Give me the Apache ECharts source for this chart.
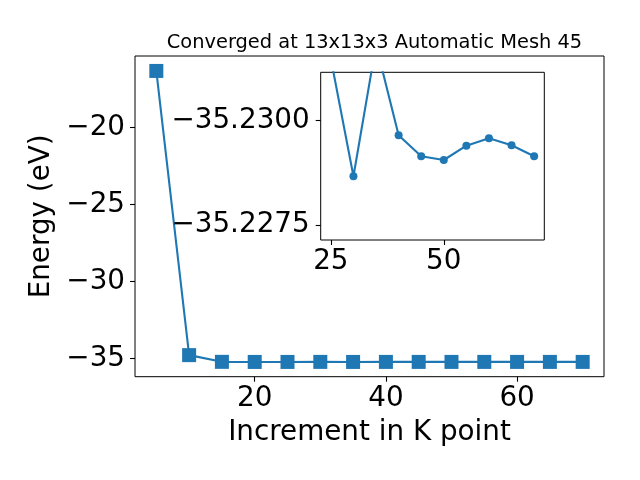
<!DOCTYPE html>
<html>
<head>
<meta charset="utf-8">
<script src="https://cdn.jsdelivr.net/npm/echarts@6/dist/echarts.min.js"></script>
<style>html,body{margin:0;padding:0;background:#fff}#c{width:640px;height:480px}</style>
</head>
<body>
<div id="c"></div>
<script>
const kPoints = [5, 10, 15, 20, 25, 30, 35, 40, 45, 50, 55, 60, 65, 70];
const energies = [-16.34, -34.79, -35.225, -35.232, -35.231468, -35.228663, -35.2318, -35.229642, -35.229140, -35.229052, -35.229394, -35.229570, -35.229403, -35.229140];
const insetStartK = 25;
const mainXTicks = [20, 40, 60];
const mainYTicks = [-35, -30, -25, -20];
const insetXTicks = [25, 50];
const insetYTicks = [-35.2300, -35.2275];
const titleText = 'Converged at 13x13x3 Automatic Mesh 45';
const xName = 'Increment in K point';
const yName = 'Energy (eV)';

const mainData = kPoints.map((k, i) => [k, energies[i]]);
const insetData = mainData.filter(d => d[0] >= insetStartK);

const FONT = 'DejaVu Sans';
const BLUE = '#1f77b4';
const neg = s => s.replace('-', '\u2212');

const chart = echarts.init(document.getElementById('c'), null, {renderer: 'canvas'});
chart.setOption({
  animation: false,
  backgroundColor: '#fff',
  title: {
    text: titleText, left: 369.5, top: 28, textAlign: 'center',
    textStyle: {fontFamily: FONT, fontSize: 19.4, fontWeight: 'normal', color: '#000'}
  },
  grid: [
    {left: 135, top: 56, width: 469, height: 320.7, show: true, borderColor: '#000', borderWidth: 1, backgroundColor: '#fff', z: 0},
    {left: 320.7, top: 72.3, width: 223.6, height: 167.7, show: true, borderColor: '#000', borderWidth: 1, backgroundColor: '#fff', z: 10}
  ],
  xAxis: [
    {
      gridIndex: 0, type: 'value', min: 1.75, max: 73.25,
      name: xName, nameLocation: 'middle', nameGap: 42,
      nameTextStyle: {fontFamily: FONT, fontSize: 27.8, color: '#000'},
      axisLine: {show: false},
      axisTick: {show: true, inside: false, length: 5, lineStyle: {color: '#000', width: 1.1}, customValues: mainXTicks},
      axisLabel: {fontFamily: FONT, fontSize: 27.8, color: '#000', margin: 8, customValues: mainXTicks},
      splitLine: {show: false}
    },
    {
      gridIndex: 1, type: 'value', min: 22.75, max: 72.25, z: 12,
      axisLine: {show: false},
      axisTick: {show: true, inside: false, length: 5, lineStyle: {color: '#000', width: 1.1}, customValues: insetXTicks},
      axisLabel: {fontFamily: FONT, fontSize: 27.8, color: '#000', margin: 8, customValues: insetXTicks},
      splitLine: {show: false}
    }
  ],
  yAxis: [
    {
      gridIndex: 0, type: 'value', min: -36.19, max: -15.37,
      name: yName, nameLocation: 'middle', nameGap: 73,
      nameTextStyle: {fontFamily: FONT, fontSize: 27.8, color: '#000'},
      axisLine: {show: false},
      axisTick: {show: true, inside: false, length: 5, lineStyle: {color: '#000', width: 1.1}, customValues: mainYTicks},
      axisLabel: {fontFamily: FONT, fontSize: 27.8, color: '#000', margin: 10, customValues: mainYTicks,
        formatter: v => neg(String(v))},
      splitLine: {show: false}
    },
    {
      gridIndex: 1, type: 'value', min: -35.231146, max: -35.227142, inverse: true, z: 12,
      axisLine: {show: false},
      axisTick: {show: true, inside: false, length: 5, lineStyle: {color: '#000', width: 1.1}, customValues: insetYTicks},
      axisLabel: {fontFamily: FONT, fontSize: 27.8, color: '#000', margin: 11, customValues: insetYTicks,
        formatter: v => neg(v.toFixed(4))},
      splitLine: {show: false}
    }
  ],
  series: [
    {
      type: 'line', xAxisIndex: 0, yAxisIndex: 0, data: mainData, z: 2,
      symbol: 'rect', symbolSize: 14, showAllSymbol: true,
      lineStyle: {color: BLUE, width: 2.1}, itemStyle: {color: BLUE}
    },
    {
      type: 'line', xAxisIndex: 1, yAxisIndex: 1, data: insetData, z: 11, clip: true,
      symbol: 'circle', symbolSize: 8, showAllSymbol: true,
      lineStyle: {color: BLUE, width: 2.1}, itemStyle: {color: BLUE}
    }
  ]
});
</script>
</body>
</html>
